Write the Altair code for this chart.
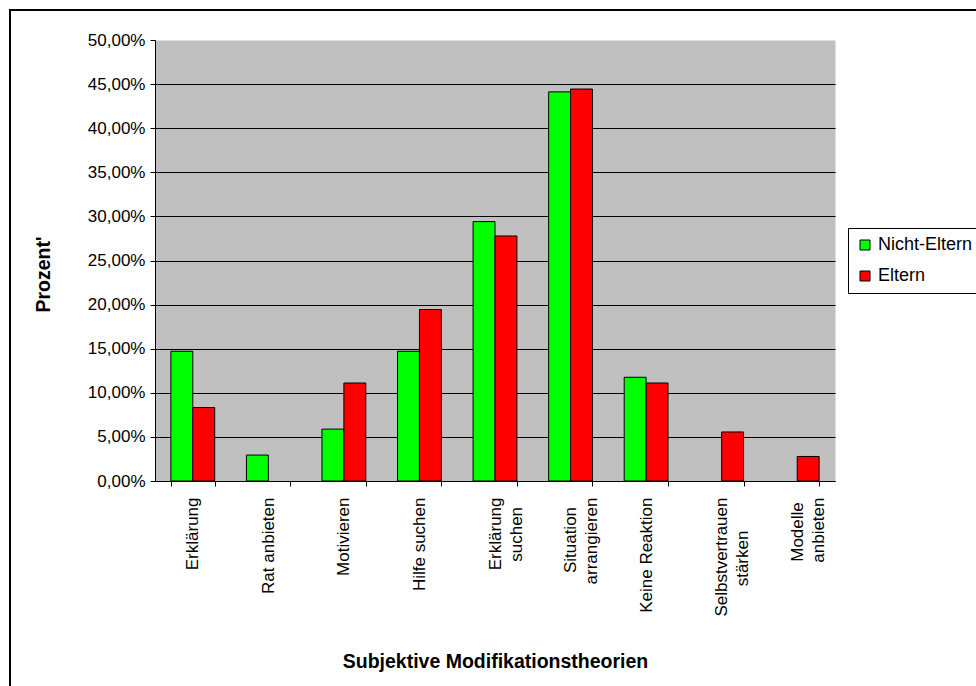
import altair as alt
import pandas as pd

categories = ["Erklärung", "Rat anbieten", "Motivieren", "Hilfe suchen",
              "Erklärung suchen", "Situation arrangieren", "Keine Reaktion",
              "Selbstvertrauen stärken", "Modelle anbieten"]
NB = "\u00a0"
ZW = "\u200b"
# two-line tick labels (shorter line padded so lines appear centred)
wrapped = {
    "Erklärung suchen": ["Erklärung", "suchen" + NB * 2 + ZW],
    "Situation arrangieren": ["Situation" + NB * 2 + ZW, "arrangieren"],
    "Selbstvertrauen stärken": ["Selbstvertrauen", "stärken" + NB * 7 + ZW],
    "Modelle anbieten": ["Modelle" + NB + ZW, "anbieten"],
}
nicht_eltern = [0.1471, 0.0294, 0.0588, 0.1471, 0.2941, 0.4412, 0.1176, 0.0, 0.0]
eltern = [0.0833, 0.0, 0.1111, 0.1944, 0.2778, 0.4444, 0.1111, 0.0556, 0.0278]
groups = ["Nicht-Eltern", "Eltern"]
colors = ["#00FF00", "#FF0000"]
y_ticks = [0.0, 0.05, 0.10, 0.15, 0.20, 0.25, 0.30, 0.35, 0.40, 0.45, 0.50]

rows = []
for c, a, b in zip(categories, nicht_eltern, eltern):
    for g, v in zip(groups, [a, b]):
        if v > 0:
            rows.append({"Kategorie": c, "Gruppe": g, "Wert": v})
df = pd.DataFrame(rows)

FONT = "Liberation Sans"

label_expr = "datum.label"
for k, lines in wrapped.items():
    arr = "[" + ",".join("'" + s + "'" for s in lines) + "]"
    label_expr = "datum.label == '" + k + "' ? " + arr + " : (" + label_expr + ")"

border = alt.Chart(alt.Data(values=[{}])).mark_rect(
    fill="white", fillOpacity=0, stroke="black", strokeWidth=2
).encode(
    x=alt.value(-145), x2=alt.value(900), y=alt.value(-30), y2=alt.value(720)
)

bars = alt.Chart(df).mark_bar(stroke="black", strokeWidth=1, opacity=1).encode(
    x=alt.X(
        "Kategorie:N", sort=categories,
        scale=alt.Scale(domain=categories, paddingInner=0.42, paddingOuter=0.21),
        axis=alt.Axis(
            title="Subjektive Modifikationstheorien",
            labelAngle=270,
            labelExpr=label_expr,
            tickBand="extent", tickSize=5, tickColor="black", tickWidth=1,
            domainColor="black", domainWidth=1,
            labelPadding=11, labelFontSize=17, labelLineHeight=21,
            titleFontSize=19.5, titleFontWeight="bold",
            titleY=186, titleBaseline="alphabetic",
            grid=False,
        ),
    ),
    xOffset=alt.XOffset("Gruppe:N", sort=groups, scale=alt.Scale(domain=groups)),
    y=alt.Y(
        "Wert:Q",
        scale=alt.Scale(domain=[0, 0.5], nice=False),
        axis=alt.Axis(
            values=y_ticks,
            labelExpr="replace(format(datum.value, '.2%'), '.', ',')",
            title="Prozent'",
            grid=True, gridColor="black", gridWidth=1,
            gridOpacity={"condition": {"test": "datum.value >= 0.49", "value": 0}, "value": 1},
            tickSize=5, tickColor="black", domainColor="black", domainWidth=1,
            labelPadding=5, labelFontSize=17,
            titleFontSize=19.5, titleFontWeight="bold",
            titleAngle=270, titleX=-106, titleY=234, titleBaseline="alphabetic",
            titleAlign="center",
        ),
    ),
    color=alt.Color(
        "Gruppe:N", sort=groups,
        scale=alt.Scale(domain=groups, range=colors),
        legend=alt.Legend(
            title=None, orient="none", legendX=693, legendY=188,
            strokeColor="black", fillColor="white", padding=8,
            symbolType="square", symbolSize=100, symbolStrokeColor="black",
            symbolStrokeWidth=1, symbolOpacity=1,
            labelFontSize=18, rowPadding=13, labelOffset=4,
        ),
    ),
)

chart = alt.layer(border, bars).properties(
    width=680, height=441,
    padding={"left": 155, "top": 40, "right": 141, "bottom": 205},
    autosize=alt.AutoSizeParams(type="none"),
    background="white",
).configure_view(
    fill="#C0C0C0", stroke="transparent"
).configure_axis(
    labelFont=FONT, titleFont=FONT, labelColor="black", titleColor="black"
).configure_legend(
    labelFont=FONT, labelColor="black"
)

chart.save("out.html", embed_options={"renderer": "svg", "actions": False})
